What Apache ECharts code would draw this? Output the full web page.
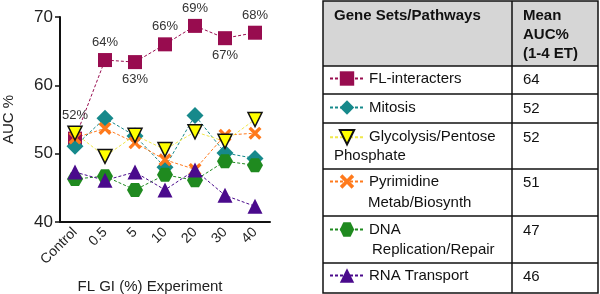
<!DOCTYPE html>
<html>
<head>
<meta charset="utf-8">
<script src="https://cdn.jsdelivr.net/npm/echarts@6/dist/echarts.min.js"></script>
<style>
  html, body { margin: 0; padding: 0; background: #fff; }
  #chart { width: 600px; height: 294px; }
</style>
</head>
<body>
<div id="chart"></div>
<script>
const categories = ['Control', '0.5', '5', '10', '20', '30', '40'];

const flInteracters = [52.2, 63.7, 63.4, 66.0, 68.7, 66.9, 67.7];
const mitosis = [51.1, 55.2, 52.6, 48.0, 55.6, 50.1, 49.3];
const glycolysis = [53.0, 49.6, 52.7, 50.6, 53.2, 51.8, 55.0];
const pyrimidine = [52.3, 53.7, 51.6, 49.1, 47.7, 52.7, 53.0];
const dnaRepair = [46.3, 46.7, 44.7, 46.9, 46.1, 48.9, 48.3];
const rnaTransport = [47.3, 46.1, 47.3, 44.7, 47.6, 43.9, 42.3];

const yTicks = [40, 50, 60, 70];

const pathwayNames = ['FL-interacters', 'Mitosis', 'Glycolysis/Pentose Phosphate',
  'Pyrimidine Metab/Biosynth', 'DNA Replication/Repair', 'RNA Transport'];
const meanAuc = ['64', '52', '52', '51', '47', '46'];

const FONT = '"Liberation Sans", Arial, sans-serif';
const xPath = 'path://M1.8,0 L5,3.2 L8.2,0 L10,1.8 L6.8,5 L10,8.2 L8.2,10 L5,6.8 L1.8,10 L0,8.2 L3.2,5 L0,1.8 Z';
const hexPath = 'path://M3,0 L9,0 L12,5 L9,10 L3,10 L0,5 Z';

function makeSeries(name, values, color, symbol, size, extra) {
  return Object.assign({
    name: name,
    type: 'line',
    data: values,
    symbol: symbol,
    symbolSize: size,
    lineStyle: { color: color, width: 1, type: [3, 2] },
    itemStyle: { color: color },
    emphasis: { disabled: true }
  }, extra || {});
}

const bottomLabels = [2, 5];
const flData = flInteracters.map((v, i) => ({
  value: v,
  label: {
    position: bottomLabels.includes(i) ? 'bottom' : 'top',
    distance: i === 0 ? 10 : 4
  }
}));

const series = [
  makeSeries(pathwayNames[0], flData, '#980c4f', 'rect', 14, {
    label: {
      show: true, fontFamily: FONT, fontSize: 13, color: '#333',
      formatter: p => Math.round(p.value) + '%'
    }
  }),
  makeSeries(pathwayNames[1], mitosis, '#16898b', 'diamond', 17),
  makeSeries(pathwayNames[3], pyrimidine, '#ff7a1c', xPath, 13),
  makeSeries(pathwayNames[4], dnaRepair, '#1f8a1f', hexPath, [16, 14]),
  makeSeries(pathwayNames[5], rnaTransport, '#4a0a8c', 'triangle', 15),
  makeSeries(pathwayNames[2], glycolysis, '#f2f200', 'triangle', 14, {
    symbolRotate: 180,
    itemStyle: { color: '#ffff00', borderColor: '#111', borderWidth: 1.5 },
    lineStyle: { color: '#f0e84a', width: 1, type: [3, 2] }
  })
];

// legend icons placed in the table rows
const legendRows = [
  { name: pathwayNames[0], label: 'FL-interacters', y: 80 },
  { name: pathwayNames[1], label: 'Mitosis', y: 109 },
  { name: pathwayNames[2], label: 'Glycolysis/Pentose', y: 138 },
  { name: pathwayNames[3], label: 'Pyrimidine', y: 183 },
  { name: pathwayNames[4], label: 'DNA', y: 231 },
  { name: pathwayNames[5], label: 'RNA Transport', y: 277 }
];
const legends = legendRows.map(r => ({
  data: [r.name],
  left: 329,
  top: r.y - 9,
  padding: 0,
  itemWidth: 34,
  itemHeight: 18,
  itemGap: 5,
  selectedMode: false,
  formatter: () => r.label,
  textStyle: { fontFamily: FONT, fontSize: 15, color: '#111' }
}));

// table drawn with graphic elements
const tLeft = 323, tRight = 598, tTop = 1, tBottom = 293, colX = 512;
const rowLines = [66, 94, 123, 169, 216, 263];
const graphics = [
  { type: 'rect', shape: { x: tLeft, y: tTop, width: tRight - tLeft, height: rowLines[0] - tTop },
    style: { fill: '#d6d6d6' }, z: -1 },
  { type: 'rect', shape: { x: tLeft, y: tTop, width: tRight - tLeft, height: tBottom - tTop },
    style: { fill: null, stroke: '#111', lineWidth: 1.5 } },
  { type: 'line', shape: { x1: colX, y1: tTop, x2: colX, y2: tBottom },
    style: { stroke: '#111', lineWidth: 1.5 } }
];
rowLines.forEach(y => graphics.push({
  type: 'line', shape: { x1: tLeft, y1: y, x2: tRight, y2: y }, style: { stroke: '#111', lineWidth: 1.5 }
}));
function txt(text, x, y, bold) {
  return {
    type: 'text', x: x, y: y,
    style: { text: text, fontFamily: FONT, fontSize: 15, fontWeight: bold ? 'bold' : 'normal',
      fill: '#111', textVerticalAlign: 'middle', textAlign: 'left' }
  };
}
graphics.push(txt('Gene Sets/Pathways', 334, 16, true));
graphics.push(txt('Mean', 523, 16, true));
graphics.push(txt('AUC%', 523, 35, true));
graphics.push(txt('(1-4 ET)', 523, 54, true));
graphics.push(txt('Phosphate', 334, 156));
graphics.push(txt('Metab/Biosynth', 368, 203));
graphics.push(txt('Replication/Repair', 372, 250));
legendRows.forEach((r, i) => graphics.push(txt(meanAuc[i], 523, r.y)));

const chart = echarts.init(document.getElementById('chart'));
chart.setOption({
  animation: false,
  backgroundColor: '#fff',
  grid: { left: 60, top: 17, width: 210, height: 205, outerBoundsMode: 'none', containLabel: false },
  xAxis: {
    type: 'category',
    data: categories,
    boundaryGap: true,
    name: 'FL GI (%) Experiment',
    nameLocation: 'middle',
    nameGap: 57,
    nameTextStyle: { fontFamily: FONT, fontSize: 15, color: '#222', padding: [0, 30, 0, 0] },
    axisLine: { lineStyle: { color: '#111', width: 2 } },
    axisTick: { alignWithLabel: true, length: 5, lineStyle: { color: '#111', width: 1.5 } },
    axisLabel: { rotate: 45, fontFamily: FONT, fontSize: 14, color: '#222', margin: 8 },
    splitLine: { show: false }
  },
  yAxis: {
    type: 'value',
    min: yTicks[0],
    max: yTicks[yTicks.length - 1],
    interval: 10,
    name: 'AUC %',
    nameLocation: 'middle',
    nameGap: 44,
    nameTextStyle: { fontFamily: FONT, fontSize: 15, color: '#222' },
    axisLine: { show: true, lineStyle: { color: '#111', width: 2 } },
    axisTick: { show: true, length: 5, lineStyle: { color: '#111', width: 1.5 } },
    axisLabel: { fontFamily: FONT, fontSize: 17, color: '#222', margin: 7 },
    splitLine: { show: false }
  },
  legend: legends,
  series: series,
  graphic: graphics
});
</script>
</body>
</html>
